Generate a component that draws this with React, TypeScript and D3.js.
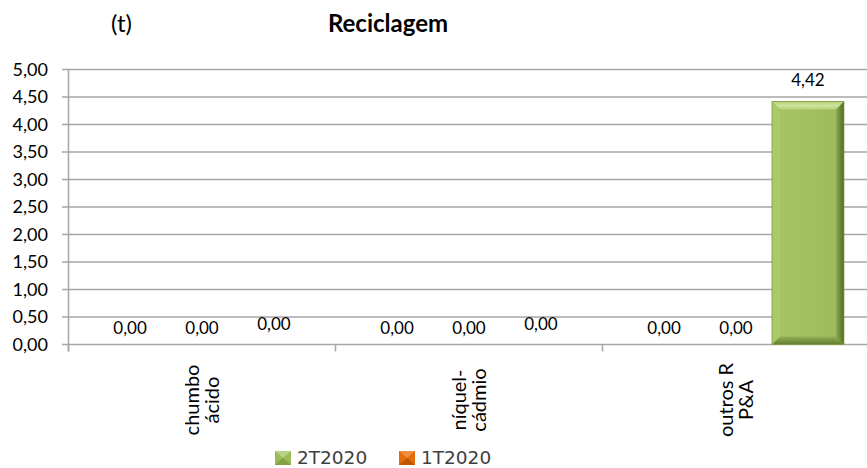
import React, { useEffect } from "react";
import * as d3 from "d3";

// ---- data ----
const categories: string[][] = [["chumbo", "ácido"], ["níquel-", "cádmio"], ["outros R", "P&A"]];
const seriesNames = ["1T2020", "s2", "2T2020"];
const seriesA = [0, 0, 0];
const seriesB = [0, 0, 0];
const seriesC = [0, 0, 4.42];
const yTicks = [0, 0.5, 1, 1.5, 2, 2.5, 3, 3.5, 4, 4.5, 5];
const legendItems = ["2T2020", "1T2020"];
const titleText = "Reciclagem";
const unitText = "(t)";

const W = 867;
const H = 468;
const plot = { left: 68.5, right: 869.5, top: 69.5, bottom: 344.5 };
const gridColor = "#a6a6a6";
const colors: Record<string, string> = { "1T2020": "#e46c0a", s2: "#4f81bd", "2T2020": "#9bbb59" };
const labelOffset: Record<string, number> = { "1T2020": 10.5, s2: 10.5, "2T2020": 15 };
const calibri = "Lato, 'Liberation Sans', sans-serif";

const locale = d3.formatLocale({ decimal: ",", thousands: ".", grouping: [3], currency: ["", ""] });
const fmt = locale.format(".2f");

function BevelBar({ x, y, w, h, id }: { x: number; y: number; w: number; h: number; id: string }) {
  if (h <= 0) return null;
  const b = Math.min(8, h / 2, w / 2);
  const x2 = x + w;
  const y2 = y + h;
  return (
    <g>
      <defs>
        <linearGradient id={`${id}-r`} x1="0" x2="1" y1="0" y2="0">
          <stop offset="0" stopColor="#8fad50" />
          <stop offset="1" stopColor="#4f6a26" />
        </linearGradient>
        <linearGradient id={`${id}-b`} x1="0" x2="0" y1="0" y2="1">
          <stop offset="0" stopColor="#93b055" />
          <stop offset="1" stopColor="#617f30" />
        </linearGradient>
        <linearGradient id={`${id}-t`} x1="0" x2="0" y1="0" y2="1">
          <stop offset="0" stopColor="#b3cf76" />
          <stop offset="0.5" stopColor="#cfe39c" />
          <stop offset="1" stopColor="#b8d27f" />
        </linearGradient>
        <linearGradient id={`${id}-f`} x1="0" x2="1" y1="0" y2="0">
          <stop offset="0" stopColor="#a6c465" />
          <stop offset="1" stopColor="#9dbb5b" />
        </linearGradient>
      </defs>
      <rect x={x} y={y} width={w} height={h} fill={`url(#${id}-f)`} />
      <polygon points={`${x},${y} ${x2},${y} ${x2 - b},${y + b} ${x + b},${y + b}`} fill={`url(#${id}-t)`} />
      <polygon points={`${x},${y} ${x + b},${y + b} ${x + b},${y2 - b} ${x},${y2}`} fill="#acc86c" />
      <polygon points={`${x2},${y} ${x2},${y2} ${x2 - b},${y2 - b} ${x2 - b},${y + b}`} fill={`url(#${id}-r)`} />
      <polygon points={`${x},${y2} ${x + b},${y2 - b} ${x2 - b},${y2 - b} ${x2},${y2}`} fill={`url(#${id}-b)`} />
      <rect x={x} y={y} width={w} height={h} fill="none" stroke="#7f9c42" strokeWidth={0.8} />
    </g>
  );
}

export default function App() {
  useEffect(() => {
    document.body.style.margin = "0";
    document.body.style.overflow = "hidden";
  }, []);

  const catKeys = categories.map((c) => c.join(" "));
  const x0 = d3.scaleBand<string>().domain(catKeys).range([plot.left, plot.right]).padding(0);
  const x1 = d3
    .scaleBand<string>()
    .domain(seriesNames)
    .range([0, x0.bandwidth()])
    .paddingInner(0)
    .paddingOuter(0.355);
  const y = d3.scaleLinear().domain([0, 5]).range([plot.bottom, plot.top]);
  const seriesValues = [seriesA, seriesB, seriesC];

  const boundaries = [...catKeys.map((k) => x0(k) as number), plot.right];

  return (
    <svg width={W} height={H} style={{ position: "absolute", left: 0, top: 0, background: "#fff" }}>
      <rect x={0} y={0} width={W} height={H} fill="#fff" />
      {/* title */}
      <text x={111} y={32} fontFamily={calibri} fontSize={24} fill="#000">
        {unitText}
      </text>
      <text x={388} y={32} fontFamily={calibri} fontSize={24} fontWeight="bold" textAnchor="middle" fill="#000">
        {titleText}
      </text>

      {/* gridlines + y ticks */}
      {yTicks.map((t) => (
        <g key={t}>
          <line x1={plot.left} x2={plot.right} y1={y(t)} y2={y(t)} stroke={gridColor} strokeWidth={1.5} />
          <line x1={62} x2={plot.left} y1={y(t)} y2={y(t)} stroke={gridColor} strokeWidth={1.5} />
          <text x={48} y={y(t)} dy="0.35em" textAnchor="end" fontFamily={calibri} fontSize={18} fill="#000">
            {fmt(t)}
          </text>
        </g>
      ))}
      {/* y axis line */}
      <line x1={plot.left} x2={plot.left} y1={plot.top} y2={plot.bottom + 7} stroke={gridColor} strokeWidth={1.5} />
      {/* category ticks */}
      {boundaries.map((b, i) => (
        <line key={i} x1={b} x2={b} y1={plot.bottom} y2={plot.bottom + 7} stroke={gridColor} strokeWidth={1.5} />
      ))}

      {/* bars */}
      {catKeys.map((ck, ci) =>
        seriesNames.map((s, si) => {
          const v = seriesValues[si][ci];
          const bx = (x0(ck) as number) + (x1(s) as number);
          const bw = x1.bandwidth();
          return (
            <g key={ck + s}>
              {s === "2T2020" ? (
                <BevelBar x={bx} y={y(v)} w={bw} h={y(0) - y(v)} id={`bar-${ci}-${si}`} />
              ) : (
                v > 0 && <rect x={bx} y={y(v)} width={bw} height={y(0) - y(v)} fill={colors[s]} />
              )}
              <text
                x={bx + bw / 2}
                y={y(v) - labelOffset[s]}
                textAnchor="middle"
                fontFamily={calibri}
                fontSize={17}
                fill="#000"
              >
                {fmt(v)}
              </text>
            </g>
          );
        })
      )}

      {/* category labels */}
      {categories.map((lines, ci) => {
        const cx = (x0(catKeys[ci]) as number) + x0.bandwidth() / 2;
        return lines.map((ln, li) => {
          const bx = cx - 10 + li * 20 + 7;
          return (
            <text
              key={ln}
              transform={`translate(${bx},400) rotate(-90)`}
              textAnchor="middle"
              fontFamily={calibri}
              fontSize={20}
              fill="#000"
            >
              {ln}
            </text>
          );
        });
      })}

      {/* legend */}
      {legendItems.map((name, i) => {
        const lx = i === 0 ? 275 : 399;
        const c = colors[name];
        const dark = name === "2T2020" ? "#6f8f35" : "#a04a05";
        const light = name === "2T2020" ? "#c6dc95" : "#f59d55";
        const ly = 451;
        return (
          <g key={name}>
            <rect x={lx} y={ly} width={16} height={14} fill={c} />
            <polygon points={`${lx},${ly} ${lx + 8},${ly + 7} ${lx + 16},${ly}`} fill={light} opacity={0.7} />
            <polygon points={`${lx},${ly + 14} ${lx + 8},${ly + 7} ${lx + 16},${ly + 14}`} fill={dark} opacity={0.6} />
            <text x={lx + 22} y={464} fontFamily="'DejaVu Sans', sans-serif" fontSize={18.5} fill="#404040">
              {name}
            </text>
          </g>
        );
      })}
    </svg>
  );
}
